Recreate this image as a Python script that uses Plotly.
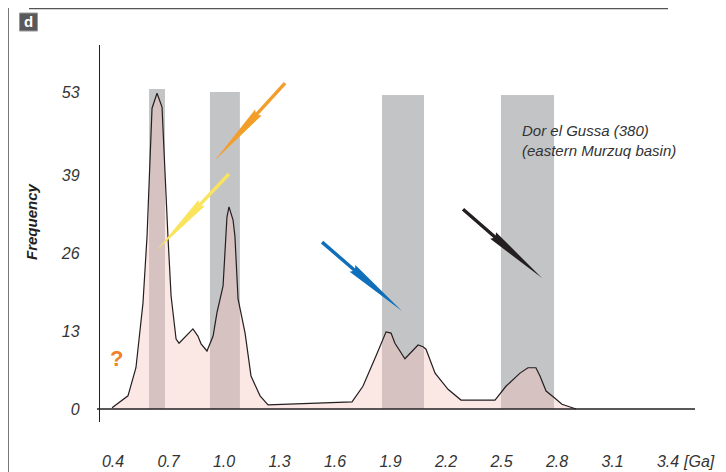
import plotly.graph_objects as go

# ---------------- data ----------------
age_ga = [0.395, 0.481, 0.524, 0.562, 0.584, 0.611, 0.638, 0.665, 0.697, 0.714,
          0.741, 0.757, 0.832, 0.859, 0.876, 0.908, 0.941, 0.962, 0.995, 1.016,
          1.027, 1.049, 1.059, 1.076, 1.114, 1.146, 1.195, 1.238, 1.692, 1.751,
          1.822, 1.876, 1.903, 1.924, 1.978, 2.049, 2.076, 2.092, 2.141, 2.211,
          2.281, 2.465, 2.524, 2.600, 2.643, 2.686, 2.708, 2.741, 2.789, 2.827,
          2.903]
frequency = [0.2, 2.2, 6.9, 17.7, 28.9, 50.3, 52.8, 50.5, 28.9, 18.9,
             11.7, 11.0, 13.4, 12.2, 10.9, 9.7, 12.2, 16.1, 20.6, 32.1,
             33.8, 31.6, 28.9, 18.4, 12.7, 5.5, 2.2, 0.7, 1.2, 3.8,
             8.9, 12.9, 12.7, 11.0, 8.4, 10.7, 10.4, 10.0, 6.0, 3.3,
             1.5, 1.5, 3.8, 6.0, 6.9, 6.9, 5.5, 3.0, 1.8, 0.8,
             0.0]

band_start = [0.595, 0.924, 1.854, 2.497]
band_end = [0.681, 1.086, 2.081, 2.784]
band_top = [53.5, 53.0, 52.5, 52.5]

x_ticks = [0.4, 0.7, 1.0, 1.3, 1.6, 1.9, 2.2, 2.5, 2.8, 3.1, 3.4]
x_tick_labels = ["0.4", "0.7", "1.0", "1.3", "1.6", "1.9", "2.2", "2.5", "2.8", "3.1", "3.4"]
y_ticks = [0, 13, 26, 39, 53]
y_tick_labels = ["0", "13", "26", "39", "53"]

arrow_tail_x = [1.330, 1.027, 1.530, 2.292]
arrow_tail_y = [54.5, 39.3, 27.9, 33.4]
arrow_tip_x = [0.951, 0.638, 1.962, 2.719]
arrow_tip_y = [41.6, 26.6, 16.4, 21.9]
arrow_colors = ["#f29e2a", "#f9e45c", "#0f6fba", "#231f20"]

# ---------------- layout geometry ----------------
OFF = 8  # page body margin of the html page
W, H = 726 - OFF, 472 - OFF
ML, MR, MT, MB = 100 - OFF, 31, 45 - OFF, 50
PW, PH = W - ML - MR, H - MT - MB
X_RANGE = [0.32973, 3.54595]
Y_RANGE = [-2.174, 60.870]
SX = PW / (X_RANGE[1] - X_RANGE[0])   # px per Ga
SY = PH / (Y_RANGE[1] - Y_RANGE[0])   # px per count

FONT = "Liberation Sans, Arial, sans-serif"


def px_to_paper(px, py):
    """screen pixel (window coords) -> paper coords"""
    return (px - OFF - ML) / PW, (H - MB - (py - OFF)) / PH


fig = go.Figure()

fig.add_trace(go.Scatter(
    x=age_ga, y=frequency, mode="lines",
    line=dict(color="#231f20", width=1.2),
    fill="tozeroy", fillcolor="rgba(245,195,187,0.38)",
    hoverinfo="skip", showlegend=False,
))

shapes = []
for x0, x1, top in zip(band_start, band_end, band_top):
    shapes.append(dict(type="rect", xref="x", yref="y", x0=x0, x1=x1, y0=0, y1=top,
                       fillcolor="#c3c4c6", line=dict(width=0), layer="below"))

# wedge arrows
for tx, ty, px_, py_, col in zip(arrow_tail_x, arrow_tail_y, arrow_tip_x, arrow_tip_y, arrow_colors):
    ax, ay = tx * SX, ty * SY
    bx, by = px_ * SX, py_ * SY
    dx, dy = bx - ax, by - ay
    L = (dx * dx + dy * dy) ** 0.5
    ux, uy = dx / L, dy / L
    nx, ny = -uy, ux
    kx, ky = ax + dx * 0.40, ay + dy * 0.40
    hs, hw = 1.7, 4.4
    pts = [
        (ax + nx * hs, ay + ny * hs),
        (kx + nx * hs, ky + ny * hs),
        (kx + nx * hw - ux * 2, ky + ny * hw - uy * 2),
        (bx, by),
        (kx - nx * hw - ux * 2, ky - ny * hw - uy * 2),
        (kx - nx * hs, ky - ny * hs),
        (ax - nx * hs, ay - ny * hs),
    ]
    path = "M " + " L ".join(f"{x / SX:.5f},{y / SY:.5f}" for x, y in pts) + " Z"
    shapes.append(dict(type="path", xref="x", yref="y", path=path,
                       fillcolor=col, line=dict(width=0), layer="above"))

# frame decorations
x0p, y0p = px_to_paper(29, 8.5)
x1p, _ = px_to_paper(668, 8.5)
shapes.append(dict(type="line", xref="paper", yref="paper", x0=x0p, x1=x1p, y0=y0p, y1=y0p,
                   line=dict(color="#555555", width=1.5)))
lx, ly0 = px_to_paper(8.5, 8)
_, ly1 = px_to_paper(8.5, 480)
shapes.append(dict(type="line", xref="paper", yref="paper", x0=lx, x1=lx, y0=ly0, y1=ly1,
                   line=dict(color="#777777", width=1)))
bx0, by0 = px_to_paper(19.5, 13)
bx1, by1 = px_to_paper(37.5, 31)
shapes.append(dict(type="rect", xref="paper", yref="paper", x0=bx0, x1=bx1, y0=by1, y1=by0,
                   fillcolor="#59595b", line=dict(color="#9a9a9a", width=1)))
zx0, _ = px_to_paper(97, 0)
shapes.append(dict(type="line", xref="paper", yref="y", x0=zx0, x1=1, y0=0, y1=0,
                   line=dict(color="#231f20", width=1.3)))

annotations = []
dx_, dy_ = px_to_paper(28.5, 22)
annotations.append(dict(xref="paper", yref="paper", x=dx_, y=dy_, text="<b>d</b>",
                        showarrow=False, font=dict(family=FONT, size=15, color="white"),
                        xanchor="center", yanchor="middle"))
fx, fy = px_to_paper(32, 222)
annotations.append(dict(xref="paper", yref="paper", x=fx, y=fy, text="<b><i>Frequency</i></b>",
                        showarrow=False, textangle=-90,
                        font=dict(family=FONT, size=15, color="#231f20"),
                        xanchor="center", yanchor="middle"))
qx, qy = px_to_paper(116, 358)
annotations.append(dict(xref="paper", yref="paper", x=qx, y=qy, text="<b>?</b>",
                        showarrow=False, font=dict(family=FONT, size=22, color="#f0802a"),
                        xanchor="center", yanchor="middle"))
tx_, ty_ = px_to_paper(520, 140)
annotations.append(dict(xref="paper", yref="paper", x=tx_, y=ty_,
                        text="<i>Dor el Gussa (380)<br>(eastern Murzuq basin)</i>",
                        showarrow=False, align="left",
                        font=dict(family=FONT, size=15, color="#333333"),
                        xanchor="left", yanchor="middle"))
gx, gy = px_to_paper(699, 461)
annotations.append(dict(xref="paper", yref="paper", x=gx, y=gy, text="<i>[Ga]</i>",
                        showarrow=False, font=dict(family=FONT, size=16, color="#333333"),
                        xanchor="center", yanchor="middle"))

fig.update_layout(
    width=W, height=H,
    margin=dict(l=ML, r=MR, t=MT, b=MB, pad=0, autoexpand=False),
    paper_bgcolor="white", plot_bgcolor="white",
    shapes=shapes, annotations=annotations,
    showlegend=False,
    xaxis=dict(range=X_RANGE, showgrid=False, zeroline=False, showline=False,
               automargin=False,
               tickmode="array", tickvals=x_ticks, ticktext=x_tick_labels, ticks="",
               ticklabelstandoff=28,
               tickfont=dict(family=FONT, size=16, color="#333333", style="italic")),
    yaxis=dict(range=Y_RANGE, showgrid=False, zeroline=False, showline=True,
               automargin=False,
               linecolor="#231f20", linewidth=1.3,
               tickmode="array", tickvals=y_ticks, ticktext=y_tick_labels, ticks="",
               ticklabelstandoff=16,
               tickfont=dict(family=FONT, size=16, color="#333333", style="italic")),
)

fig.write_html("out.html")
